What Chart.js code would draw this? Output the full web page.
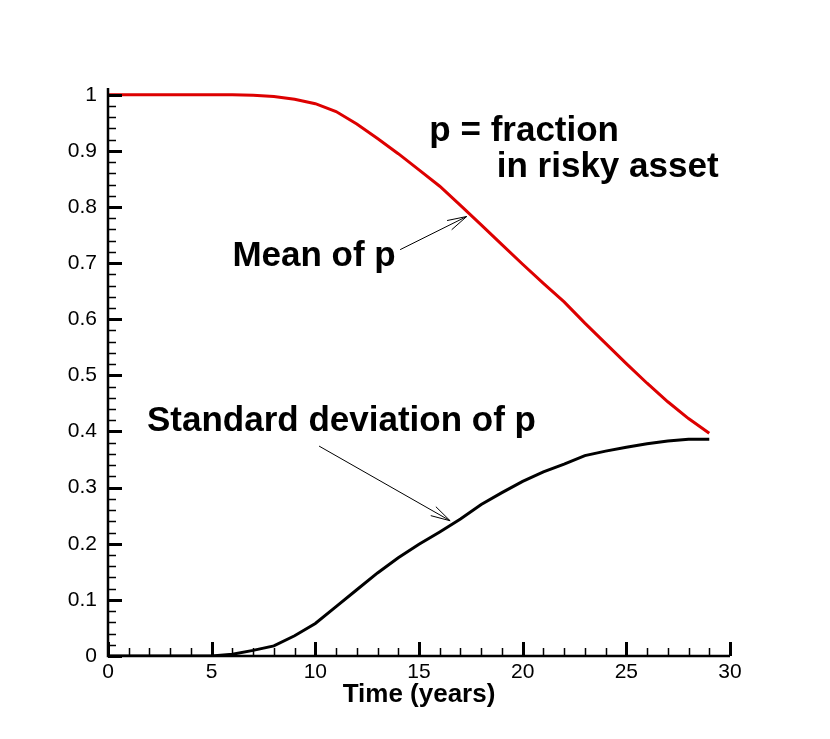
<!DOCTYPE html>
<html>
<head>
<meta charset="utf-8">
<script src="https://cdn.jsdelivr.net/npm/chart.js@4/dist/chart.umd.min.js"></script>
<style>
  html, body { margin: 0; padding: 0; background: #fff; }
  #wrap { width: 830px; height: 739px; }
</style>
</head>
<body>
<div id="wrap"><canvas id="chart" width="830" height="739"></canvas></div>
<script>
// --- data ---
const years = [0, 1, 2, 3, 4, 5, 6, 7, 8, 9, 10, 11, 12, 13, 14, 15, 16, 17, 18, 19, 20, 21, 22, 23, 24, 25, 26, 27, 28, 29];
const meanP = [1, 1, 1, 1, 1, 1, 1, 0.999, 0.997, 0.992, 0.984, 0.97, 0.948, 0.922, 0.895, 0.866, 0.837, 0.803, 0.768, 0.733, 0.698, 0.664, 0.631, 0.593, 0.557, 0.521, 0.486, 0.453, 0.423, 0.397];
const stdP = [0, 0, 0, 0, 0, 0, 0.003, 0.01, 0.018, 0.036, 0.058, 0.088, 0.118, 0.148, 0.175, 0.199, 0.221, 0.244, 0.27, 0.291, 0.311, 0.328, 0.342, 0.357, 0.365, 0.372, 0.378, 0.383, 0.386, 0.386];

const xTicks = [0, 5, 10, 15, 20, 25, 30];
const yTicks = [0, 0.1, 0.2, 0.3, 0.4, 0.5, 0.6, 0.7, 0.8, 0.9, 1];
const xMinorStep = 1;
const yMinorStep = 0.02;

// annotation text, placed in data units (left edge, baseline)
const labels = [
  { text: 'p = fraction', x: 15.5, y: 0.917 },
  { text: 'in risky asset', x: 18.75, y: 0.854 },
  { text: 'Mean of p', x: 6.0, y: 0.694 },
  { text: 'Standard deviation of p', x: 1.88, y: 0.400 }
];
const arrows = [
  { from: [14.09, 0.724], to: [17.3, 0.783] },
  { from: [10.18, 0.374], to: [16.5, 0.241] }
];

const FONT = '"Liberation Sans", Arial, Helvetica, sans-serif';

const framePlugin = {
  id: 'frame',
  afterDatasetsDraw(chart) {
    const { ctx, chartArea: a, scales: { x, y } } = chart;
    ctx.save();
    ctx.strokeStyle = '#000';
    ctx.lineCap = 'butt';

    // minor ticks (inside)
    ctx.lineWidth = 1.5;
    ctx.beginPath();
    for (let v = xTicks[0]; v <= xTicks[xTicks.length - 1] + 1e-9; v += xMinorStep) {
      const px = Math.round(x.getPixelForValue(v)) + 0.5;
      ctx.moveTo(px, a.bottom);
      ctx.lineTo(px, a.bottom - 8);
    }
    for (let i = 0; i <= Math.round(1 / yMinorStep); i++) {
      const py = Math.round(y.getPixelForValue(i * yMinorStep)) + 0.5;
      ctx.moveTo(a.left, py);
      ctx.lineTo(a.left + 8, py);
    }
    ctx.stroke();

    // major ticks
    ctx.lineWidth = 3;
    ctx.beginPath();
    xTicks.forEach(v => {
      const px = Math.round(x.getPixelForValue(v)) + 0.5;
      ctx.moveTo(px, a.bottom);
      ctx.lineTo(px, a.bottom - 14);
    });
    yTicks.forEach(v => {
      const py = Math.round(y.getPixelForValue(v)) + 0.5;
      ctx.moveTo(a.left, py);
      ctx.lineTo(a.left + 14, py);
    });
    ctx.stroke();

    // axis lines
    ctx.lineWidth = 2.5;
    ctx.beginPath();
    ctx.moveTo(a.left, a.top);
    ctx.lineTo(a.left, a.bottom);
    ctx.lineTo(a.right, a.bottom);
    ctx.stroke();

    // annotations
    ctx.fillStyle = '#000';
    ctx.font = 'bold 35px ' + FONT;
    ctx.textAlign = 'left';
    ctx.textBaseline = 'alphabetic';
    labels.forEach(l => ctx.fillText(l.text, x.getPixelForValue(l.x), y.getPixelForValue(l.y)));

    ctx.lineWidth = 1;
    arrows.forEach(ar => {
      const x0 = x.getPixelForValue(ar.from[0]), y0 = y.getPixelForValue(ar.from[1]);
      const x1 = x.getPixelForValue(ar.to[0]), y1 = y.getPixelForValue(ar.to[1]);
      const ang = Math.atan2(y1 - y0, x1 - x0);
      const len = 20, spread = 0.26;
      ctx.beginPath();
      ctx.moveTo(x0, y0);
      ctx.lineTo(x1, y1);
      ctx.moveTo(x1 - len * Math.cos(ang - spread), y1 - len * Math.sin(ang - spread));
      ctx.lineTo(x1, y1);
      ctx.lineTo(x1 - len * Math.cos(ang + spread), y1 - len * Math.sin(ang + spread));
      ctx.stroke();
    });
    ctx.restore();
  }
};

new Chart(document.getElementById('chart'), {
  type: 'line',
  data: {
    labels: years,
    datasets: [
      {
        label: 'Mean of p',
        data: years.map((t, i) => ({ x: t, y: meanP[i] })),
        borderColor: '#dd0000',
        borderWidth: 3,
        pointRadius: 0,
        tension: 0,
        fill: false
      },
      {
        label: 'Standard deviation of p',
        data: years.map((t, i) => ({ x: t, y: stdP[i] })),
        borderColor: '#000',
        borderWidth: 3,
        pointRadius: 0,
        tension: 0,
        fill: false
      }
    ]
  },
  options: {
    responsive: false,
    animation: false,
    events: [],
    layout: { padding: { top: 88, right: 100, left: 0, bottom: 0 } },
    plugins: { legend: { display: false }, tooltip: { enabled: false } },
    scales: {
      x: {
        type: 'linear',
        min: 0,
        max: 30,
        grid: { display: false, drawTicks: false },
        border: { display: false },
        afterBuildTicks: s => { s.ticks = xTicks.map(v => ({ value: v })); },
        afterFit: s => { s.height = 83; },
        ticks: {
          color: '#000',
          padding: 4,
          maxRotation: 0,
          font: { family: FONT, size: 21 }
        },
        title: {
          display: true,
          text: 'Time (years)',
          color: '#000',
          padding: { top: 0, bottom: 29 },
          font: { family: FONT, size: 26, weight: 'bold' }
        }
      },
      y: {
        type: 'linear',
        min: 0,
        max: 1.012,
        grid: { display: false, drawTicks: false },
        border: { display: false },
        afterBuildTicks: s => { s.ticks = yTicks.map(v => ({ value: v })); },
        afterFit: s => { s.width = 108; },
        ticks: {
          color: '#000',
          padding: 11,
          font: { family: FONT, size: 21 },
          callback: v => String(+v.toFixed(1))
        }
      }
    }
  },
  plugins: [framePlugin]
});
</script>
</body>
</html>
